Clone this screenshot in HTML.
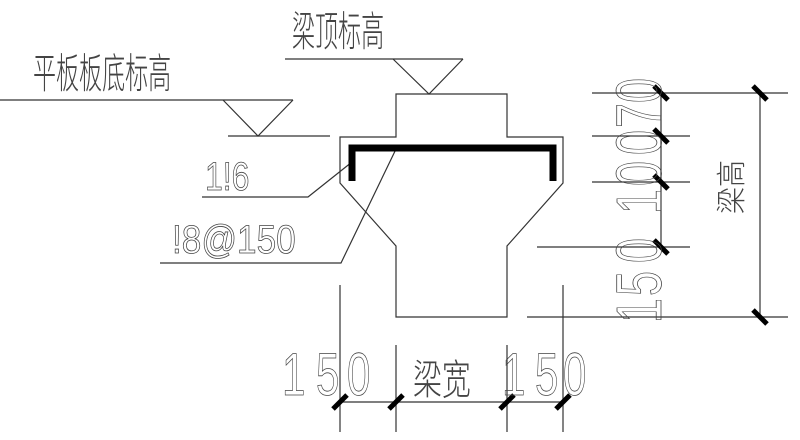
<!DOCTYPE html>
<html><head><meta charset="utf-8"><style>
html,body{margin:0;padding:0;background:#fff;width:800px;height:440px;overflow:hidden}
svg{display:block}
.t{font-family:"Liberation Sans",sans-serif;fill:none;stroke:#444;stroke-width:0.8}
.c{font-family:"Noto Sans CJK SC","WenQuanYi Zen Hei",sans-serif;fill:#444;font-weight:300}
</style></head><body>
<svg width="800" height="440" viewBox="0 0 800 440" xmlns="http://www.w3.org/2000/svg">
<g stroke="#333" stroke-width="1.2" fill="none">
<line x1="0" y1="100" x2="293" y2="100"/>
<polyline points="223,100 258,136 293,100"/>
<line x1="228" y1="136" x2="330" y2="136"/>
<line x1="285" y1="59" x2="463" y2="59"/>
<polyline points="393,59 429,94 463,59"/>
<polygon points="396,94 507,94 507,137 563,137 563,183 507,246 507,317 396,317 396,246 340,183 340,137 396,137"/>
<polyline points="352,162 308,197 202,197"/>
<polyline points="397,147 341,263 160,263"/>
<line x1="592" y1="93" x2="788" y2="93"/>
<line x1="592" y1="136" x2="690" y2="136"/>
<line x1="592" y1="182" x2="690" y2="182"/>
<line x1="537" y1="247" x2="690" y2="247"/>
<line x1="527" y1="317" x2="788" y2="317"/>
<line x1="661" y1="93" x2="661" y2="247"/>
<line x1="760" y1="93" x2="760" y2="317"/>
<line x1="340" y1="285" x2="340" y2="432"/>
<line x1="396" y1="345" x2="396" y2="432"/>
<line x1="507" y1="345" x2="507" y2="432"/>
<line x1="563" y1="285" x2="563" y2="432"/>
<line x1="340" y1="402" x2="563" y2="402"/>
</g>
<g stroke="#000" stroke-width="7" fill="none">
<polyline points="352,181 352,148 553,148 553,181"/>
</g>
<g stroke="#000" stroke-width="5">
<line x1="654" y1="86" x2="668" y2="100"/>
<line x1="654" y1="129" x2="668" y2="143"/>
<line x1="654" y1="175" x2="668" y2="189"/>
<line x1="654" y1="240" x2="668" y2="254"/>
<line x1="753" y1="86" x2="767" y2="100"/>
<line x1="753" y1="310" x2="767" y2="324"/>
<line x1="333" y1="409" x2="347" y2="395"/>
<line x1="389" y1="409" x2="403" y2="395"/>
<line x1="500" y1="409" x2="514" y2="395"/>
<line x1="556" y1="409" x2="570" y2="395"/>
</g>
<text class="c" font-size="32" transform="translate(33,88) scale(0.72,1.3)">平板板底标高</text>
<text class="c" font-size="32" transform="translate(292,46) scale(0.72,1.3)">梁顶标高</text>
<text class="t" font-size="40" transform="translate(205,190) scale(0.8,1)">1!6</text>
<text class="t" font-size="40" transform="translate(172,253) scale(0.88,1)">!8@150</text>
<g class="t" font-size="60">
<text transform="translate(282,395) scale(0.7,1)">1</text>
<text transform="translate(316,395) scale(0.7,1)">5</text>
<text transform="translate(347,395) scale(0.7,1)">0</text>
<text transform="translate(502,395) scale(0.7,1)">1</text>
<text transform="translate(535,395) scale(0.7,1)">5</text>
<text transform="translate(563,395) scale(0.7,1)">0</text>
</g>
<text class="c" font-size="34" transform="translate(413,394) scale(0.85,1.2)">梁宽</text>
<g class="t" font-size="64">
<text transform="translate(661,323) rotate(-90) scale(0.7,1)">1</text>
<text transform="translate(661,296) rotate(-90) scale(0.7,1)">5</text>
<text transform="translate(661,263) rotate(-90) scale(0.7,1)">0</text>
<text transform="translate(661,214) rotate(-90) scale(0.7,1)">1</text>
<text transform="translate(661,186) rotate(-90) scale(0.7,1)">0</text>
<text transform="translate(661,155) rotate(-90) scale(0.7,1)">0</text>
<text transform="translate(661,128) rotate(-90) scale(0.7,1)">7</text>
<text transform="translate(661,103) rotate(-90) scale(0.7,1)">0</text>
</g>
<text class="c" font-size="30" transform="translate(742,214) rotate(-90) scale(0.9,1)">梁高</text>
</svg>
</body></html>
